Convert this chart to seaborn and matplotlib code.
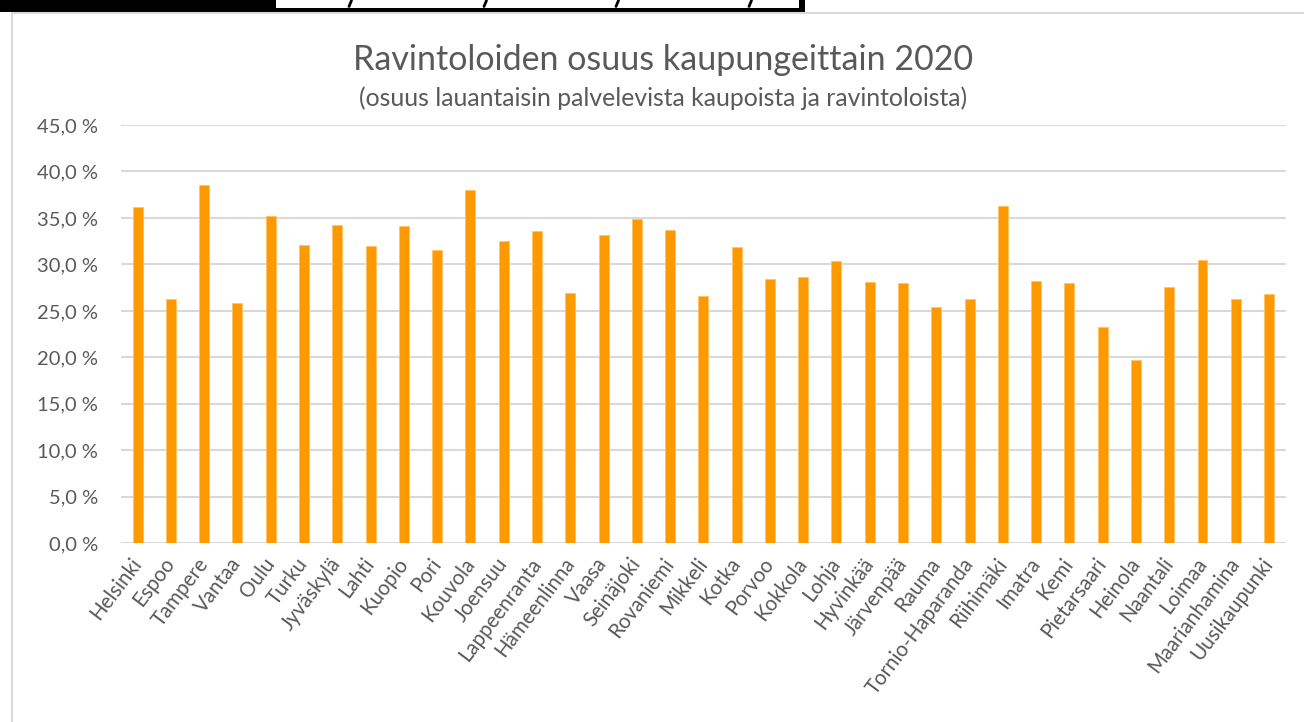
import matplotlib
matplotlib.use("Agg")
import matplotlib.pyplot as plt
import seaborn as sns
import pandas as pd
from matplotlib.patches import Rectangle
from matplotlib.lines import Line2D
from matplotlib.ticker import FuncFormatter

cities = ["Helsinki", "Espoo", "Tampere", "Vantaa", "Oulu", "Turku", "Jyväskylä", "Lahti",
          "Kuopio", "Pori", "Kouvola", "Joensuu", "Lappeenranta", "Hämeenlinna", "Vaasa",
          "Seinäjoki", "Rovaniemi", "Mikkeli", "Kotka", "Porvoo", "Kokkola", "Lohja",
          "Hyvinkää", "Järvenpää", "Rauma", "Tornio-Haparanda", "Riihimäki", "Imatra",
          "Kemi", "Pietarsaari", "Heinola", "Naantali", "Loimaa", "Maarianhamina",
          "Uusikaupunki"]
share = [36.2, 26.3, 38.5, 25.8, 35.2, 32.1, 34.2, 32.0, 34.1, 31.6, 38.0, 32.5, 33.55,
         26.9, 33.2, 34.85, 33.75, 26.65, 31.85, 28.45, 28.6, 30.35, 28.15, 27.95, 25.4,
         26.3, 36.3, 28.2, 27.95, 23.3, 19.7, 27.6, 30.45, 26.3, 26.85]
yticks = [0, 5, 10, 15, 20, 25, 30, 35, 40, 45]
title = "Ravintoloiden osuus kaupungeittain 2020"
subtitle = "(osuus lauantaisin palvelevista kaupoista ja ravintoloista)"

df = pd.DataFrame({"city": cities, "share": share})

sns.set_theme(style="white")
plt.rcParams["font.family"] = ["Lato", "DejaVu Sans"]
text_col = "#595959"

W, H = 1304, 722
fig = plt.figure(figsize=(W / 100, H / 100), dpi=100)
ax = fig.add_axes([121 / W, 1 - 543.3 / H, (1285.7 - 121) / W, (543.3 - 125) / H])

sns.barplot(data=df, x="city", y="share", color="#FF9900", saturation=1, width=0.30,
            ax=ax, zorder=3)
for p in ax.patches:
    p.set_edgecolor("#FFC266")
    p.set_linewidth(0.6)

ax.set_ylim(0, 45)
ax.set_xlim(-0.5, len(cities) - 0.5)
ax.set_yticks(yticks)
ax.yaxis.set_major_formatter(FuncFormatter(lambda v, _: f"{v:.1f}".replace(".", ",") + " %"))
ax.yaxis.grid(True, color="#D9D9D9", linewidth=1.5, zorder=0)
ax.xaxis.grid(False)
for s in ax.spines.values():
    s.set_visible(False)
ax.set_xlabel("")
ax.set_ylabel("")
ax.tick_params(axis="y", labelsize=14.5, colors=text_col, length=0, pad=16.5)
ax.tick_params(axis="x", labelsize=14.8, colors=text_col, length=0, pad=12)
plt.setp(ax.get_xticklabels(), rotation=53, ha="right", va="center", rotation_mode="anchor")

fig.text(663 / W, 1 - 60 / H, title, ha="center", va="center", fontsize=24.5, color=text_col)
fig.text(663 / W, 1 - 98 / H, subtitle, ha="center", va="center", fontsize=17.8, color=text_col)

# chart frame (left and top edges)
fig.add_artist(Line2D([11.5 / W, 11.5 / W], [0, 1 - 12.5 / H], transform=fig.transFigure,
                      color="#D9D9D9", linewidth=1.5))
fig.add_artist(Line2D([11.5 / W, 1], [1 - 12.5 / H, 1 - 12.5 / H], transform=fig.transFigure,
                      color="#D9D9D9", linewidth=1.5))
# cropped black-framed box at the top edge
fig.patches.append(Rectangle((0, 1 - 12.3 / H), 805 / W, 12.3 / H,
                             transform=fig.transFigure, facecolor="black", edgecolor="none"))
fig.patches.append(Rectangle((276 / W, 1 - 7.7 / H), (799 - 276) / W, 7.7 / H,
                             transform=fig.transFigure, facecolor="white", edgecolor="none"))
# descender fragments of the cut-off text inside the box
for cx in [350, 485, 617, 750]:
    fig.add_artist(Line2D([(cx + 1.5) / W, (cx - 1.0) / W], [1 - 0.5 / H, 1 - 6.5 / H],
                          transform=fig.transFigure, color="black", linewidth=2.0,
                          solid_capstyle="round"))

fig.savefig("out.png", dpi=100)
